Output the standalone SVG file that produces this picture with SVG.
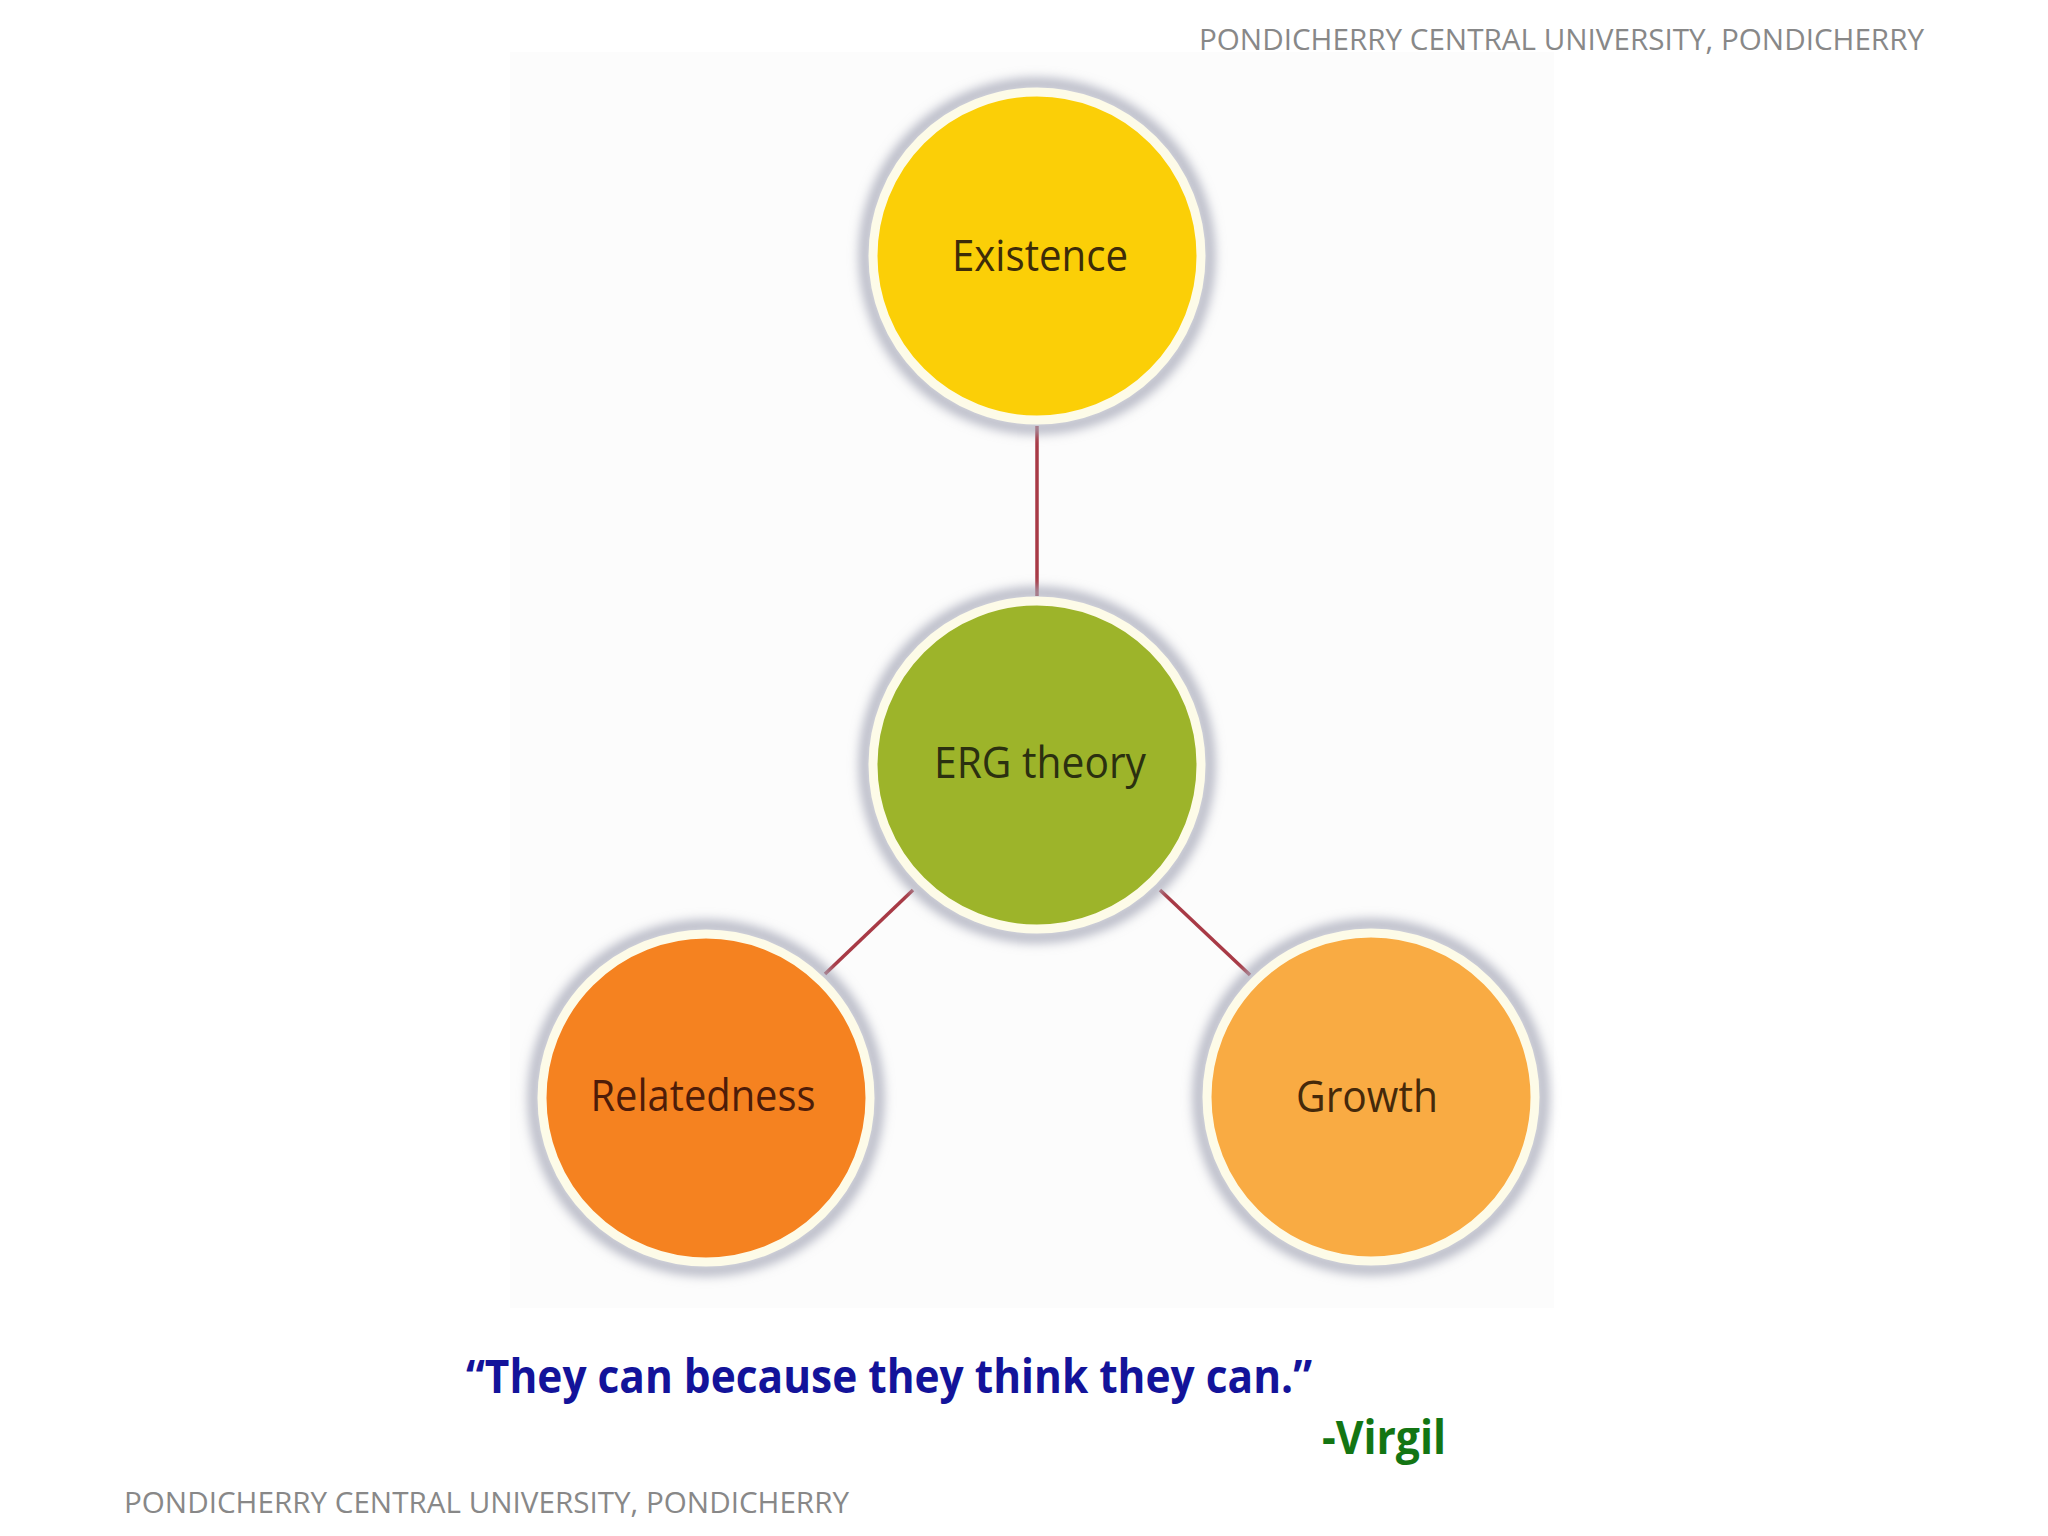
<svg xmlns="http://www.w3.org/2000/svg" width="2048" height="1536" viewBox="0 0 2048 1536">
  <style>
    .lbl { font-family: "Open Sans", "Noto Sans", "Liberation Sans", sans-serif; font-size: 44px; text-anchor: middle; }
    .hdr { font-family: "Open Sans", "Noto Sans", "Liberation Sans", sans-serif; font-size: 30px; fill: #888888; }
    .quote { font-family: "Open Sans", "Noto Sans", "Liberation Sans", sans-serif; font-weight: bold; font-size: 46px; }
    .ring { stroke: #fdfbe8; stroke-width: 9; }
    .shadow { fill: none; stroke: #a6a8b8; stroke-width: 10; filter: url(#blur); }
    .conn { stroke: #a83a46; stroke-width: 3.5; fill: none; }
  </style>
  <defs>
    <filter id="blur" x="-20%" y="-20%" width="140%" height="140%">
      <feGaussianBlur stdDeviation="6"/>
    </filter>
  </defs>
  <rect width="2048" height="1536" fill="#ffffff"/>
  <rect x="510" y="52" width="1044" height="1256" fill="#fcfcfc"/>

  <text class="hdr" x="1199" y="50" textLength="725" lengthAdjust="spacingAndGlyphs">PONDICHERRY CENTRAL UNIVERSITY, PONDICHERRY</text>

  <g id="connectors">
    <line class="conn" x1="1037" y1="426" x2="1037" y2="596"/>
    <line class="conn" x1="913" y1="890" x2="825" y2="974"/>
    <line class="conn" x1="1160" y1="890" x2="1250" y2="975"/>
  </g>

  <g id="existence">
    <circle class="shadow" cx="1037" cy="256" r="172"/>
    <circle class="ring" cx="1037" cy="256" r="164" fill="#fbcf07"/>
    <text class="lbl" x="1040" y="271" fill="#3e2c08" textLength="176" lengthAdjust="spacingAndGlyphs">Existence</text>
  </g>

  <g id="erg">
    <circle class="shadow" cx="1037" cy="765" r="172"/>
    <circle class="ring" cx="1037" cy="765" r="164" fill="#9db42a"/>
    <text class="lbl" x="1040" y="778" fill="#2b3010" textLength="212" lengthAdjust="spacingAndGlyphs">ERG theory</text>
  </g>

  <g id="relatedness">
    <circle class="shadow" cx="706" cy="1098" r="172"/>
    <circle class="ring" cx="706" cy="1098" r="164" fill="#f58220"/>
    <text class="lbl" x="703" y="1111" fill="#4e1c08" textLength="225" lengthAdjust="spacingAndGlyphs">Relatedness</text>
  </g>

  <g id="growth">
    <circle class="shadow" cx="1371" cy="1097" r="172"/>
    <circle class="ring" cx="1371" cy="1097" r="164" fill="#f9ab43"/>
    <text class="lbl" x="1367" y="1112" fill="#45290a" textLength="142" lengthAdjust="spacingAndGlyphs">Growth</text>
  </g>

  <text class="quote" x="466" y="1393" fill="#13139a" textLength="846" lengthAdjust="spacingAndGlyphs">“They can because they think they can.”</text>
  <text class="quote" x="1322" y="1454" fill="#137513" textLength="124" lengthAdjust="spacingAndGlyphs">-Virgil</text>

  <text class="hdr" x="124" y="1513" textLength="725" lengthAdjust="spacingAndGlyphs">PONDICHERRY CENTRAL UNIVERSITY, PONDICHERRY</text>
</svg>
